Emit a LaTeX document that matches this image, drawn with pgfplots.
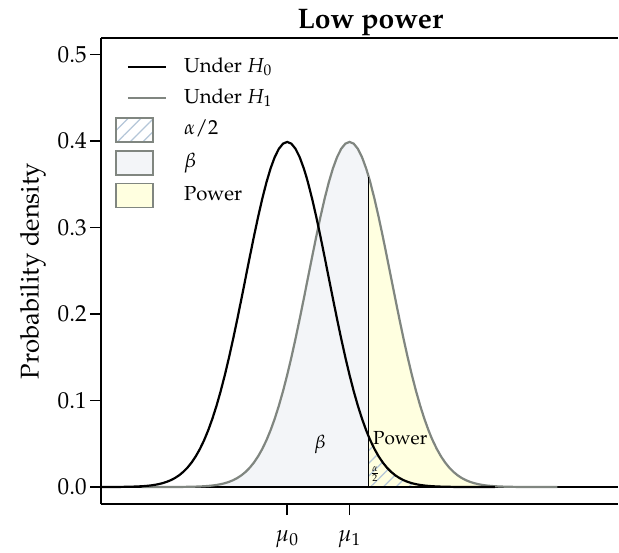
\documentclass[border=0pt]{standalone}
\usepackage[T1]{fontenc}
\usepackage{mathpazo}
\usepackage{pgfplots}
\pgfplotsset{compat=1.18}
\usetikzlibrary{patterns.meta,calc}

\definecolor{hone}{RGB}{128,134,128}
\definecolor{betafill}{RGB}{243,245,248}
\definecolor{powfill}{RGB}{255,255,224}
\definecolor{hatch}{RGB}{180,198,216}

% standard normal density: z (under H0), x1 = z + 1.5 (under H1), p
\pgfplotstableread{
z x1 p
-5.0 -3.5 0.0000015
-4.5 -3.0 0.000016
-4.0 -2.5 0.000134
-3.75 -2.25 0.000352
-3.5 -2.0 0.000873
-3.4 -1.9 0.001232
-3.3 -1.8 0.001723
-3.2 -1.7 0.002384
-3.1 -1.6 0.003267
-3.0 -1.5 0.004432
-2.9 -1.4 0.005953
-2.8 -1.3 0.007915
-2.7 -1.2 0.010421
-2.6 -1.1 0.013583
-2.5 -1.0 0.017528
-2.4 -0.9 0.022395
-2.3 -0.8 0.028327
-2.2 -0.7 0.035475
-2.1 -0.6 0.043984
-2.0 -0.5 0.053991
-1.9 -0.4 0.065616
-1.8 -0.3 0.078950
-1.7 -0.2 0.094049
-1.6 -0.1 0.110921
-1.5 0.0 0.129518
-1.4 0.1 0.149727
-1.3 0.2 0.171369
-1.2 0.3 0.194186
-1.1 0.4 0.217852
-1.0 0.5 0.241971
-0.9 0.6 0.266085
-0.8 0.7 0.289692
-0.7 0.8 0.312254
-0.6 0.9 0.333225
-0.5 1.0 0.352065
-0.4 1.1 0.368270
-0.3 1.2 0.381388
-0.2 1.3 0.391043
-0.1 1.4 0.396953
0.0 1.5 0.398942
0.1 1.6 0.396953
0.2 1.7 0.391043
0.3 1.8 0.381388
0.4 1.9 0.368270
0.46 1.96 0.358889
0.5 2.0 0.352065
0.6 2.1 0.333225
0.7 2.2 0.312254
0.8 2.3 0.289692
0.9 2.4 0.266085
1.0 2.5 0.241971
1.1 2.6 0.217852
1.2 2.7 0.194186
1.3 2.8 0.171369
1.4 2.9 0.149727
1.5 3.0 0.129518
1.6 3.1 0.110921
1.7 3.2 0.094049
1.8 3.3 0.078950
1.9 3.4 0.065616
1.96 3.46 0.058441
2.0 3.5 0.053991
2.1 3.6 0.043984
2.2 3.7 0.035475
2.3 3.8 0.028327
2.4 3.9 0.022395
2.5 4.0 0.017528
2.6 4.1 0.013583
2.7 4.2 0.010421
2.8 4.3 0.007915
2.9 4.4 0.005953
3.0 4.5 0.004432
3.1 4.6 0.003267
3.2 4.7 0.002384
3.3 4.8 0.001723
3.4 4.9 0.001232
3.5 5.0 0.000873
3.75 5.25 0.000352
4.0 5.5 0.000134
4.5 6.0 0.000016
5.0 6.5 0.0000015
}\dens

\begin{document}
\begin{tikzpicture}[font=\fontsize{11}{13}\selectfont]
  \begin{axis}[
    name = ax,
    scale only axis,
    width = 258.5bp, height = 233bp,
    xmin = -4.48, xmax = 7.96,
    ymin = -0.01965, ymax = 0.51908,
    axis x line* = bottom, axis y line* = left,
    axis line style = {-, line width=0.75bp},
    tick align = outside,
    major tick length = 5.5bp,
    tick style = {black, line width=0.75bp},
    ytick = {0,0.1,0.2,0.3,0.4,0.5},
    yticklabel style = {/pgf/number format/fixed, /pgf/number format/fixed zerofill,
                        /pgf/number format/precision=1, /tikz/inner sep=1.5bp,
                        /tikz/font=\fontsize{11.6}{14}\selectfont},
    xtick = {0,1.5},
    xticklabels = {$\mu_0$,$\mu_1$},
    xticklabel style = {yshift=-4bp, font=\fontsize{11.5}{14}\selectfont},
    ylabel = {Probability density},
    ylabel style = {at={(rel axis cs:0,0.5)}, anchor=center, yshift=34bp,
                    font=\fontsize{12.9}{15}\selectfont},
    title = {Low power},
    every axis title shift = 0pt,
    title style = {at={(rel axis cs:0.521,1)}, anchor=base, yshift=5bp,
                   font=\bfseries\fontsize{14.2}{17}\selectfont},
    legend style = {draw=none, fill=none, at={(0.0271,0.9635)}, anchor=north west,
                    inner sep=0pt, outer sep=0pt, row sep=3.5bp, column sep=8.5bp,
                    font=\fontsize{10.2}{12}\selectfont,
                    nodes={inner sep=0pt, text height=8.5bp, text depth=3.5bp}},
    legend cell align = left,
  ]
    % legend entries
    \addlegendimage{legend image code/.code={\draw[black, line width=1.1bp] (6bp,0bp) -- (25bp,0bp);}}
    \addlegendentry{Under $H_0$}
    \addlegendimage{legend image code/.code={\draw[hone, line width=1.1bp] (6bp,0bp) -- (25bp,0bp);}}
    \addlegendentry{Under $H_1$}
    \addlegendimage{legend image code/.code={
        \draw[hone, line width=0.9bp, pattern={Lines[angle=45,distance=4.5bp,line width=0.6bp]}, pattern color=hatch]
          (0bp,-6bp) rectangle (18.5bp,6bp); \path (25bp,0bp);}}
    \addlegendentry{$\alpha/2$}
    \addlegendimage{legend image code/.code={
        \draw[hone, line width=0.9bp, fill=betafill] (0bp,-6bp) rectangle (18.5bp,6bp); \path (25bp,0bp);}}
    \addlegendentry{$\beta$}
    \addlegendimage{legend image code/.code={
        \draw[hone, line width=0.9bp, fill=powfill] (0bp,-6bp) rectangle (18.5bp,6bp); \path (25bp,0bp);}}
    \addlegendentry{Power}

    % shaded areas
    \addplot[draw=none, fill=betafill, forget plot, restrict x to domain=-3.6:1.961]
      table[x=x1, y=p] {\dens} \closedcycle;
    \addplot[draw=none, fill=powfill, forget plot, restrict x to domain=1.959:6.6]
      table[x=x1, y=p] {\dens} \closedcycle;
    \addplot[draw=none, pattern={Lines[angle=45,distance=4.5bp,line width=0.6bp]}, pattern color=hatch,
             forget plot, restrict x to domain=1.959:5.1]
      table[x=z, y=p] {\dens} \closedcycle;

    % zero line
    \addplot[black, line width=0.75bp, forget plot] coordinates {(-4.48,0) (7.96,0)};

    % densities
    \addplot[hone, line width=1.1bp, forget plot] table[x=x1, y=p] {\dens};
    \addplot[black, line width=1.1bp, forget plot] table[x=z, y=p] {\dens};

    % critical value
    \addplot[black, line width=0.75bp, forget plot] coordinates {(1.96,0) (1.96,0.358889)};

    \node[anchor=base, font=\fontsize{9.5}{11}\selectfont] at (axis cs:0.79,0.045) {$\beta$};
    \node[anchor=base, font=\fontsize{9.5}{11}\selectfont] at (axis cs:2.72,0.0486) {Power};
    \node[font=\fontsize{7}{8}\selectfont] at (axis cs:2.11,0.015) {$\frac{\alpha}{2}$};
  \end{axis}
  \draw[line width=0.75bp] (ax.north west) -- (ax.north east);
  \pgfresetboundingbox
  \path ($(ax.south west)+(-50.5bp,-24bp)$) rectangle ($(ax.north east)+(0.5bp,19bp)$);
\end{tikzpicture}
\end{document}
